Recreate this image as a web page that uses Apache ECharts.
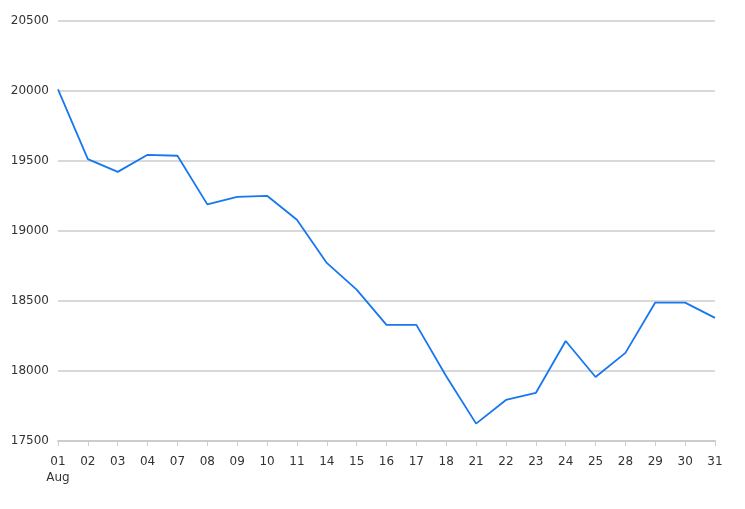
<!DOCTYPE html>
<html><head><meta charset="utf-8">
<script src="https://cdn.jsdelivr.net/npm/echarts@6/dist/echarts.min.js"></script>
<style>html,body{margin:0;padding:0;background:#fff}#c{width:745px;height:509px}</style>
</head><body><div id="c"></div>
<script>
const categories = ['01','02','03','04','07','08','09','10','11','14','15','16','17','18','21','22','23','24','25','28','29','30','31'];
const values = [20010,19512,19421,19543,19536,19189,19243,19250,19079,18771,18581,18329,18329,17962,17624,17793,17843,18214,17957,18129,18488,18488,18379];
const monthLabel = 'Aug';
const yMin = 17500, yMax = 20500, yStep = 500;

const chart = echarts.init(document.getElementById('c'), null, {renderer:'canvas'});
chart.setOption({
  animation:false,
  grid:{left:58,right:30,top:20.7,bottom:68,containLabel:false},
  xAxis:{
    type:'category', data:categories, boundaryGap:false,
    axisLine:{lineStyle:{color:'#cccccc',width:2}},
    axisTick:{show:true,alignWithLabel:true,length:5,lineStyle:{color:'#cccccc'}},
    axisLabel:{color:'#333',fontFamily:'DejaVu Sans',fontSize:12,margin:13,lineHeight:16,interval:0,
      formatter:(v,i)=> i===0 ? v+'\n'+monthLabel : v}
  },
  yAxis:{
    type:'value', min:yMin, max:yMax, interval:yStep,
    axisLine:{show:false}, axisTick:{show:false},
    splitLine:{lineStyle:{color:'#cccccc',width:1.5}},
    axisLabel:{color:'#333',fontFamily:'DejaVu Sans',fontSize:12,margin:9,formatter:v=>String(v)}
  },
  series:[{type:'line',data:values,symbol:'none',lineStyle:{color:'#1677f0',width:1.8},itemStyle:{color:'#1677f0'}}]
});
</script></body></html>
